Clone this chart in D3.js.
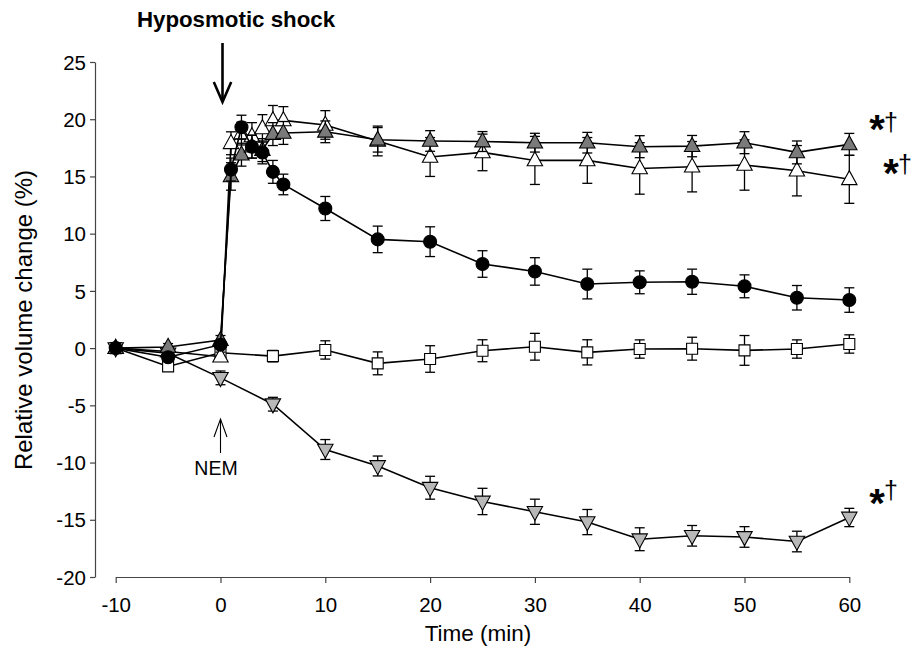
<!DOCTYPE html>
<html><head><meta charset="utf-8">
<script src="https://cdn.jsdelivr.net/npm/d3@7"></script>
<style>body{margin:0;background:#fff}svg{display:block;font-family:"Liberation Sans",Arial,Helvetica,sans-serif}</style>
</head><body><svg id="c" width="915" height="650"></svg>
<script>
// ---- data ----
const timesA = [-10,-5,0,1,2,3,4,5,6,10,15,20,25,30,35,40,45,50,55,60];
const timesB = [-10,-5,0,5,10,15,20,25,30,35,40,45,50,55,60];
const controlMean = [0,-0.8,0.3,15.6,19.3,17.6,17.1,15.4,14.3,12.2,9.5,9.3,7.35,6.7,5.6,5.75,5.8,5.4,4.4,4.2];
const controlSE   = [0.2,0.3,0.3,1.0,1.05,1.0,1.0,1.0,0.9,1.05,1.16,1.3,1.16,1.2,1.3,1.0,1.1,1.0,1.07,1.07];
const grayTriMean = [0,0.1,0.7,15.0,16.9,17.6,17.3,18.7,18.8,18.9,18.2,18.1,18.05,17.95,17.95,17.6,17.65,17.95,17.1,17.8];
const grayTriSE   = [0.2,0.3,0.4,1.2,1.0,1.0,1.0,1.0,1.0,0.95,1.07,0.9,0.87,0.82,0.9,0.96,0.93,0.96,1.0,0.96];
const whiteTriMean = [0,-0.3,-0.75,17.9,18.75,18.5,19.2,19.9,19.9,19.5,18.1,16.7,17.1,16.4,16.4,15.7,15.85,16.0,15.5,14.75];
const whiteTriSE   = [0.2,0.3,0.4,1.0,1.0,1.2,1.2,1.3,1.2,1.25,1.3,1.7,1.6,2.1,2.0,2.25,2.2,2.2,2.2,2.1];
const squareMean = [0,-1.6,-0.4,-0.7,-0.16,-1.33,-0.95,-0.23,0.12,-0.37,-0.08,-0.05,-0.2,-0.08,0.36];
const squareSE   = [0.2,0.3,0.4,0.5,0.8,1.0,1.16,0.96,1.17,1.1,0.8,1.0,1.3,0.8,0.8];
const nemMean = [0,-0.45,-2.6,-4.9,-8.86,-10.3,-12.2,-13.4,-14.3,-15.2,-16.7,-16.4,-16.5,-16.9,-14.8];
const nemSE   = [0.2,0.3,0.6,0.6,0.87,0.87,1.0,1.15,1.1,1.1,1.0,0.9,0.9,0.9,0.8];
const xTicks = [-10,0,10,20,30,40,50,60];
const yTicks = [-20,-15,-10,-5,0,5,10,15,20,25];

// ---- scales ----
const svg = d3.select("#c");
const x = d3.scaleLinear().domain([-10,60]).range([115.7,849.3]);
const y = d3.scaleLinear().domain([-20,25]).range([577,62]);

// axes
const fmt = d => String(d);
const yAx = svg.append("g").attr("transform","translate(95,0)")
  .call(d3.axisLeft(y).tickValues(yTicks).tickSize(5).tickSizeOuter(0).tickFormat(fmt));
const xAx = svg.append("g").attr("transform","translate(0,577)")
  .call(d3.axisBottom(x).tickValues(xTicks).tickSize(6).tickSizeOuter(0).tickFormat(fmt));
[yAx,xAx].forEach(g=>{
  g.selectAll("path,line").attr("stroke","#444").attr("stroke-width",1.2);
  g.selectAll("text").attr("font-size",20.5).attr("fill","#000").attr("font-family","Liberation Sans, Arial, sans-serif");
});
yAx.selectAll("text").attr("x",-9).attr("dy","0.35em");
xAx.selectAll("text").attr("y",20).attr("dy","0.71em");

svg.append("text").attr("x",478).attr("y",641).attr("text-anchor","middle")
  .attr("font-size",22.5).text("Time (min)");
svg.append("text").attr("transform","translate(32,320) rotate(-90)").attr("text-anchor","middle")
  .attr("font-size",24).text("Relative volume change (%)");

// series drawing
const triUp = (s)=>`M0,${-s*0.62}L${s*0.55},${s*0.38}L${-s*0.55},${s*0.38}Z`;
const triDown = (s)=>`M0,${s*0.62}L${s*0.55},${-s*0.38}L${-s*0.55},${-s*0.38}Z`;
function series(times, mean, se, shape, fill){
  const data = times.map((t,i)=>({t, m:mean[i], e:se[i]}));
  const g = svg.append("g");
  g.append("path").datum(data).attr("fill","none").attr("stroke","#000").attr("stroke-width",1.6)
    .attr("d", d3.line().x(d=>x(d.t)).y(d=>y(d.m)));
  const eb = g.selectAll(".eb").data(data).join("g");
  eb.append("line").attr("x1",d=>x(d.t)).attr("x2",d=>x(d.t)).attr("y1",d=>y(d.m-d.e)).attr("y2",d=>y(d.m+d.e))
    .attr("stroke","#000").attr("stroke-width",1.3);
  [1,-1].forEach(sg=>eb.append("line").attr("x1",d=>x(d.t)-5).attr("x2",d=>x(d.t)+5)
    .attr("y1",d=>y(d.m+sg*d.e)).attr("y2",d=>y(d.m+sg*d.e)).attr("stroke","#000").attr("stroke-width",1.3));
  const mk = g.selectAll(".mk").data(data).join(shape==="circle"?"circle":"path");
  if(shape==="circle") mk.attr("cx",d=>x(d.t)).attr("cy",d=>y(d.m)).attr("r",6.5);
  else if(shape==="square") mk.attr("d","M-5.5,-5.5H5.5V5.5H-5.5Z").attr("transform",d=>`translate(${x(d.t)},${y(d.m)})`);
  else mk.attr("d", shape==="up"?triUp(14):triDown(14)).attr("transform",d=>`translate(${x(d.t)},${y(d.m)})`);
  mk.attr("fill",fill).attr("stroke","#000").attr("stroke-width",1.1);
}
series(timesB, squareMean, squareSE, "square", "#fff");
series(timesB, nemMean, nemSE, "down", "#b8b8b8");
series(timesA, whiteTriMean, whiteTriSE, "up", "#fff");
series(timesA, grayTriMean, grayTriSE, "up", "#7a7a7a");
series(timesA, controlMean, controlSE, "circle", "#000");

// annotations
svg.append("text").attr("x",236).attr("y",26.5).attr("text-anchor","middle")
  .attr("font-size",22.3).attr("font-weight","bold").text("Hyposmotic shock");
const ax0 = x(0)+2;
svg.append("line").attr("x1",ax0).attr("x2",ax0).attr("y1",43).attr("y2",101).attr("stroke","#000").attr("stroke-width",2.6);
svg.append("path").attr("d",`M${ax0-8.7},82L${ax0},102L${ax0+8.7},82`).attr("fill","none").attr("stroke","#000").attr("stroke-width",2.6);

const nx = x(0);
svg.append("line").attr("x1",nx).attr("x2",nx).attr("y1",419).attr("y2",453).attr("stroke","#000").attr("stroke-width",1.1);
svg.append("path").attr("d",`M${nx-6.5},437L${nx},419L${nx+6.5},437`).attr("fill","none").attr("stroke","#000").attr("stroke-width",1.1);
svg.append("text").attr("x",216).attr("y",475).attr("text-anchor","middle").attr("font-size",19.5).text("NEM");

function mark(sx, sy, dx, dy){
  svg.append("text").attr("x",sx).attr("y",sy+20).attr("text-anchor","middle").attr("font-size",40).attr("font-weight","bold").attr("fill","#000").text("*");
  svg.append("text").attr("x",dx).attr("y",dy).attr("text-anchor","middle").attr("font-size",25).attr("fill","#000").text("†");
}
mark(877,123, 891,131);
mark(891,167, 905,173);
mark(877,497, 891,499);
</script></body></html>
